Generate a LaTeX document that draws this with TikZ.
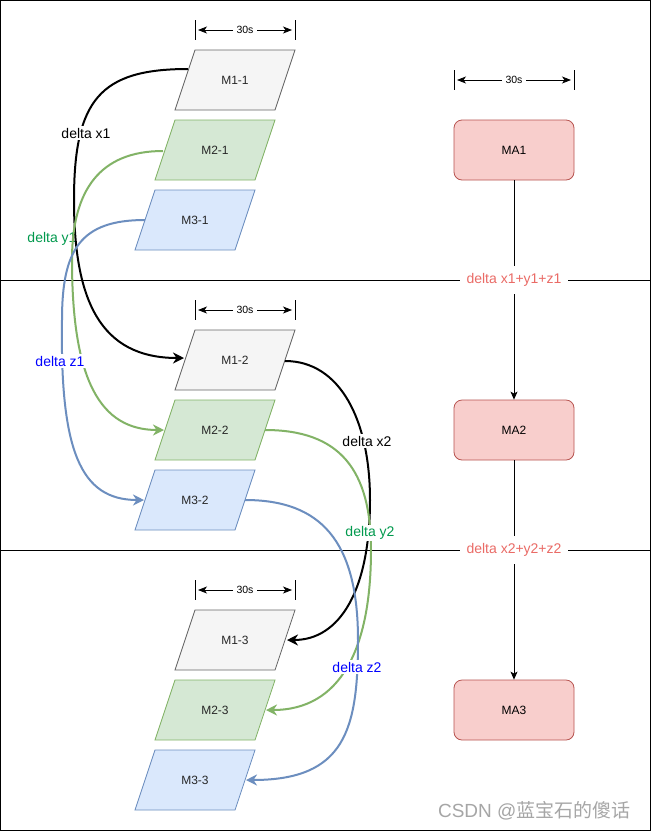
\documentclass[tikz,border=0pt]{standalone}
\usepackage{fontspec}
\setmainfont{Liberation Sans}
\newfontfamily\cjkfont{Noto Sans CJK SC}
\usetikzlibrary{arrows.meta,calc}
\definecolor{grayfill}{HTML}{F5F5F5}
\definecolor{graydraw}{HTML}{666666}
\definecolor{greenfill}{HTML}{D5E8D4}
\definecolor{greendraw}{HTML}{82B366}
\definecolor{bluefill}{HTML}{DAE8FC}
\definecolor{bluedraw}{HTML}{6C8EBF}
\definecolor{redfill}{HTML}{F8CECC}
\definecolor{reddraw}{HTML}{B85450}
\definecolor{redtext}{HTML}{EA6B66}
\definecolor{greentext}{HTML}{00994D}
\definecolor{bluetext}{HTML}{0000FF}
\newcommand\mypara[6]{%
  \filldraw[fill=#4,draw=#5,line width=0.8pt] (#2-40,#3-30) -- (#2+60,#3-30) -- (#2+40,#3+30) -- (#2-60,#3+30) -- cycle;
  \node[paratext] (#1) at (#2,#3) {#6};}
\newcommand\dimmark[3]{%
  \draw[line width=0.8pt] (#1,#3-10) -- (#1,#3+10);
  \draw[line width=0.8pt] (#2,#3-10) -- (#2,#3+10);
  \draw[dimarrow] (#1+#2/2-#1/2,#3) node[dimtext]{30s} ++(-12,0) -- (#1+3,#3);
  \draw[dimarrow] (#1+#2/2-#1/2+12,#3) -- (#2-3,#3);}
\tikzset{
  paratext/.style={font=\fontsize{12}{14}\selectfont, text=black!85},
  mabox/.style={draw=reddraw, fill=redfill, rounded corners=8pt, minimum width=120pt, minimum height=60pt, line width=0.8pt, font=\fontsize{12}{14}\selectfont, inner sep=0pt},
  dimtext/.style={font=\fontsize{10.5}{12}\selectfont, inner sep=2pt},
  dimarrow/.style={line width=0.8pt, -{Stealth[length=9pt,width=7pt,inset=2.5pt]}},
  curve/.style={line width=2pt, -{Stealth[length=11pt,width=11pt,inset=3.5pt]}},
  dlabel/.style={font=\fontsize{14}{16}\selectfont, fill=white, inner sep=1.5pt},
  sumlabel/.style={font=\fontsize{14}{16}\selectfont, fill=white, text=redtext, inner sep=7pt},
  maarrow/.style={line width=0.8pt, -{Stealth[length=8pt,width=7pt,inset=2pt]}},
}
\begin{document}
\begin{tikzpicture}[x=1pt,y=-1pt]
\useasboundingbox (0,0) rectangle (651,831);
\fill[white] (0,0) rectangle (651,831);
\draw[line width=1pt] (0.5,0.5) rectangle (650.5,830.5);
% separators
\draw[line width=0.8pt] (0,280) -- (651,280);
\draw[line width=0.8pt] (0,550) -- (651,550);
% dimension marks
\dimmark{195}{295}{30}
\dimmark{195}{295}{310}
\dimmark{195}{295}{590}
\dimmark{454}{574}{80}
% parallelograms
\mypara{m11}{235}{80}{grayfill}{graydraw}{M1-1}
\mypara{m21}{215}{150}{greenfill}{greendraw}{M2-1}
\mypara{m31}{195}{220}{bluefill}{bluedraw}{M3-1}
\mypara{m12}{235}{360}{grayfill}{graydraw}{M1-2}
\mypara{m22}{215}{430}{greenfill}{greendraw}{M2-2}
\mypara{m32}{195}{500}{bluefill}{bluedraw}{M3-2}
\mypara{m13}{235}{640}{grayfill}{graydraw}{M1-3}
\mypara{m23}{215}{710}{greenfill}{greendraw}{M2-3}
\mypara{m33}{195}{780}{bluefill}{bluedraw}{M3-3}
% MA boxes
\node[mabox] (ma1) at (514,150) {MA1};
\node[mabox] (ma2) at (514,430) {MA2};
\node[mabox] (ma3) at (514,710) {MA3};
\draw[maarrow] (ma1) -- (ma2);
\draw[maarrow] (ma2) -- (ma3);
\node[sumlabel] (s1) at (514,280) {delta x1+y1+z1};
\node[sumlabel] (s2) at (514,550) {delta x2+y2+z2};
% labels drawn under the first curves where they cross
\node[dlabel, text=greentext] (dy1) at (52,239) {delta y1};
% first transitions
\draw[curve, black] ($(m11)+(-47,-11)$) .. controls (100,69) and (74,100) .. (74,200)
  .. controls (74,300) and (100,358) .. ($(m12)+(-51,-2)$);
\draw[curve, greendraw] ($(m21)+(-52,1)$) .. controls (100,151) and (72,190) .. (72,260)
  .. controls (72,380) and (100,430) .. ($(m22)+(-51,0)$);
\draw[curve, bluedraw] ($(m31)+(-50,0)$) .. controls (80,220) and (62,250) .. (62,320)
  .. controls (60,450) and (80,500) .. ($(m32)+(-51,0)$);
% second transitions
\draw[curve, black] ($(m12)+(50,1)$) .. controls (340,361) and (370,420) .. (370,500)
  .. controls (370,590) and (340,640) .. ($(m13)+(52,0)$);
\draw[curve, greendraw] ($(m22)+(50,0)$) .. controls (340,430) and (371,470) .. (371,550)
  .. controls (371,650) and (340,710) .. ($(m23)+(51,0)$);
\draw[curve, bluedraw] ($(m32)+(50,0)$) .. controls (320,500) and (358,540) .. (358,640)
  .. controls (358,730) and (345,780) .. ($(m33)+(51,0)$);
% labels
\node[dlabel] (dx1) at (86,133) {delta x1};
\node[dlabel, text=bluetext] (dz1) at (60,361) {delta z1};
\node[dlabel] (dx2) at (367,441) {delta x2};
\node[dlabel, text=greentext] (dy2) at (370,533) {delta y2};
\node[dlabel, text=bluetext] (dz2) at (357,667) {delta z2};
% watermark
\node[font=\fontsize{19}{22}\selectfont, text=black!35, anchor=east] (wm) at (634,811) {CSDN @{\cjkfont 蓝宝石的傻话}};
\end{tikzpicture}
\end{document}
